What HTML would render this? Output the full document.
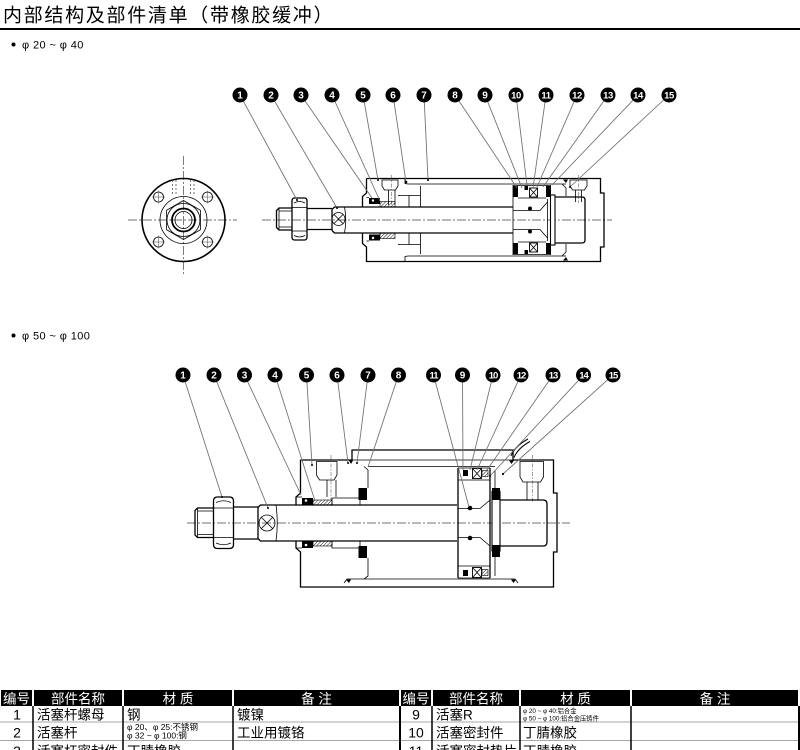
<!DOCTYPE html>
<html><head><meta charset="utf-8">
<style>
html,body{margin:0;padding:0;background:#fff;overflow:hidden;}
svg{display:block;}
.o{fill:none;stroke:#000;stroke-width:1.3}
.t{fill:none;stroke:#000;stroke-width:0.8}
.c{fill:none;stroke:#444;stroke-width:0.7;stroke-dasharray:9 2 2 2}
.l{fill:none;stroke:#6e6e6e;stroke-width:0.85}
.w{fill:#fff;stroke:#000;stroke-width:0.9}
.bt{fill:#fff;font-weight:bold;font-size:10px;text-anchor:middle;font-family:"Liberation Sans",sans-serif}
.hd{fill:#fff;font-size:13.5px;text-anchor:middle;font-family:"Liberation Sans","Noto Sans CJK SC",sans-serif}
.tx{fill:#000;font-size:13.5px;font-family:"Liberation Sans","Noto Sans CJK SC",sans-serif}
.num{fill:#000;font-size:14px;text-anchor:middle;font-family:"Liberation Sans",sans-serif}
</style></head><body>
<svg width="800" height="750" viewBox="0 0 800 750" xmlns="http://www.w3.org/2000/svg" font-family="'Liberation Sans','Noto Sans CJK SC',sans-serif">
<defs>
<pattern id="h" width="2.4" height="2.4" patternUnits="userSpaceOnUse" patternTransform="rotate(45)"><line x1="0" y1="0" x2="0" y2="2.4" stroke="#000" stroke-width="0.9"/></pattern>
</defs>
<rect width="800" height="750" fill="#fff"/>

<!-- Title -->
<text x="3" y="21.5" font-size="19" letter-spacing="1.7" fill="#000" font-family="'Liberation Sans','Noto Sans CJK SC',sans-serif">内部结构及部件清单（带橡胶缓冲）</text>
<rect x="0" y="28" width="800" height="2" fill="#000"/>

<circle cx="13.5" cy="44.5" r="2" fill="#000"/>
<text x="22" y="48.5" font-size="11" letter-spacing="0.4" fill="#000">φ 20 ~ φ 40</text>
<circle cx="13.5" cy="335.5" r="2" fill="#000"/>
<text x="22" y="339.5" font-size="11" letter-spacing="0.4" fill="#000">φ 50 ~ φ 100</text>

<!-- ===== Diagram 1: side view ===== -->
<g>
<line class="c" x1="128" y1="220" x2="237" y2="220"/>
<line class="c" x1="183.5" y1="156" x2="183.5" y2="274"/>
<circle cx="183.5" cy="220" r="41.5" fill="none" stroke="#000" stroke-width="1.6"/>
<circle class="t" cx="158.5" cy="197" r="5"/>
<circle class="t" cx="207.5" cy="197" r="5"/>
<circle class="t" cx="158.5" cy="242" r="5"/>
<circle class="t" cx="207.5" cy="242" r="5"/>
<path d="M152,197H165M158.5,190.5V203.5M201,197H214M207.5,190.5V203.5M152,242H165M158.5,235.5V248.5M201,242H214M207.5,235.5V248.5" stroke="#444" stroke-width="0.5" fill="none"/>
<circle class="t" cx="183.5" cy="220" r="23.5"/>
<polygon class="t" points="183.5,200.5 200.4,210.25 200.4,229.75 183.5,239.5 166.6,229.75 166.6,210.25"/>
<circle class="t" cx="183.5" cy="220" r="16.5"/>
<circle cx="183.5" cy="220" r="11.5" fill="none" stroke="#000" stroke-width="1.8"/>
<circle class="t" cx="183.5" cy="220" r="8.5"/>
<path d="M172.5,180V196M176,180V196M190.5,180V196M194,180V196" stroke="#555" stroke-width="0.8" stroke-dasharray="2 2" fill="none"/>
</g>

<!-- ===== Diagram 1: cylinder ===== -->
<g>
<line class="c" x1="262" y1="220" x2="612" y2="220"/>
<path class="o" d="M292,208H279L276.5,210.5V227.5L279,230H292"/>
<path class="t" d="M279,208V230M279,211H292M279,227H292"/>
<path class="o" d="M294.5,198H304.5Q307,198 307,201V237Q307,240 304.5,240H294.5Q292,240 292,237V201Q292,198 294.5,198Z" fill="#fff"/>
<path class="t" d="M292,207.5H307M292,231H307M294,203Q299.5,200 305,203M294,235.5Q299.5,238.5 305,235.5"/>
<path class="o" d="M307,208.5H332M307,229.5H332"/>
<path class="o" d="M332,209.5L334.5,207H513M332,230.5L334.5,233H513M332,209.5V230.5"/>
<path class="t" d="M344.5,207Q347,220 344.5,233"/>
<circle class="t" cx="338.5" cy="219" r="6.5"/>
<path class="t" d="M334,214.5L343,223.5M343,214.5L334,223.5"/>
<path class="o" d="M366.5,178.5H600.5V193H604V247H600.5V261.5H366.5V247L362.5,243.5V233M362.5,207V196.5L366.5,193V178.5"/>
<path class="t" d="M405,178.5V183.5L408,184H566M405,261.5V256.5L408,256H566"/>
<path class="t" d="M420.5,186V207M420.5,233V254M409,207V195.5H420.5M409,233V244.5H420.5M398,195.5H409M398,244.5H409"/>
<path class="t" d="M382,180H398V186L395.5,190H384.5L382,186Z" fill="#fff"/>
<path class="t" d="M388.5,190V205M395,190V205"/>
<line x1="391.7" y1="175" x2="391.7" y2="206" stroke="#444" stroke-width="0.5" stroke-dasharray="4 1.5 1.5 1.5"/>
<path class="t" d="M570,180H587V186L584.5,190H572.5L570,186Z" fill="#fff"/>
<path class="t" d="M575.5,190V202M581.5,190V202"/>
<line x1="578.5" y1="175" x2="578.5" y2="203" stroke="#444" stroke-width="0.5" stroke-dasharray="4 1.5 1.5 1.5"/>
<rect x="369" y="198" width="11" height="6" fill="#000"/>
<rect x="369" y="234.5" width="11" height="6" fill="#000"/>
<circle cx="373" cy="200.5" r="1.2" fill="#fff"/>
<circle cx="373" cy="238" r="1.2" fill="#fff"/>
<rect x="380" y="201.5" width="15" height="5.5" fill="url(#h)" stroke="#000" stroke-width="0.6"/>
<rect x="380" y="233" width="15" height="5.5" fill="url(#h)" stroke="#000" stroke-width="0.6"/>
<path class="t" d="M366.5,197.5H369M366.5,241H369"/>
<path class="t" d="M513,185V255M550.5,185V255M513,185.5H550.5M513,254.5H550.5M518,198H546M518,242H546"/>
<rect x="513" y="186" width="5" height="11" fill="#000"/>
<rect x="513" y="243" width="5" height="11" fill="#000"/>
<rect x="546" y="186" width="5" height="11" fill="#000"/>
<rect x="546" y="243" width="5" height="11" fill="#000"/>
<rect x="524.5" y="186" width="3.5" height="4" fill="#000"/>
<rect x="524.5" y="250" width="3.5" height="4" fill="#000"/>
<rect class="w" x="529.5" y="188" width="8" height="9"/>
<path class="t" d="M529.5,188L537.5,197M537.5,188L529.5,197"/>
<rect class="w" x="529.5" y="243" width="8" height="9"/>
<path class="t" d="M529.5,243L537.5,252M537.5,243L529.5,252"/>
<path class="t" d="M513,210.5H540L547.5,202M513,229.5H540L547.5,238M547.5,199V241"/>
<circle cx="530" cy="208.5" r="2" fill="#000"/>
<circle cx="530" cy="231.5" r="2" fill="#000"/>
<rect x="550.5" y="195" width="4.5" height="50" fill="#fff" stroke="#000" stroke-width="1.1"/>
<path class="o" d="M555,197H582Q585,197 585,200V240Q585,243 582,243H555"/>
<path class="t" d="M562,184L566,188V196M562,256L566,252V244"/>
<polygon points="563,179.5 568,179.5 566,183" fill="#000"/>
<polygon points="563,260.5 568,260.5 566,257" fill="#000"/>
</g>

<g>
<path class="l" d="M240,95L297,200M271,95L337,208M301,95L372,198M332,95L380,201M363,95L378,180M393,95L406,182M424,95L428,180M455,95L517,188M485,95L522,188M516,95L527,185M546,95L533,188M577,95L537,187M608,95L543,187M638,95L552,185M669,95L570,187"/>
<g fill="#000">
<circle cx="297" cy="200" r="1"/><circle cx="337" cy="208" r="1"/><circle cx="378" cy="180" r="1"/><circle cx="406" cy="182" r="1.3"/><circle cx="428" cy="180" r="1"/><circle cx="570" cy="187" r="1"/>
<circle cx="240" cy="95" r="7.5"/><circle cx="271" cy="95" r="7.5"/><circle cx="301" cy="95" r="7.5"/><circle cx="332" cy="95" r="7.5"/><circle cx="363" cy="95" r="7.5"/><circle cx="393" cy="95" r="7.5"/><circle cx="424" cy="95" r="7.5"/><circle cx="455" cy="95" r="7.5"/><circle cx="485" cy="95" r="7.5"/><circle cx="516" cy="95" r="7.5"/><circle cx="546" cy="95" r="7.5"/><circle cx="577" cy="95" r="7.5"/><circle cx="608" cy="95" r="7.5"/><circle cx="638" cy="95" r="7.5"/><circle cx="669" cy="95" r="7.5"/>
</g>
<g class="bt">
<text x="240" y="98.6">1</text><text x="271" y="98.6">2</text><text x="301" y="98.6">3</text><text x="332" y="98.6">4</text><text x="363" y="98.6">5</text><text x="393" y="98.6">6</text><text x="424" y="98.6">7</text><text x="455" y="98.6">8</text><text x="485" y="98.6">9</text>
<text x="516" y="98.6" font-size="9.5" letter-spacing="-0.4">10</text><text x="546" y="98.6" font-size="9.5" letter-spacing="-0.4">11</text><text x="577" y="98.6" font-size="9.5" letter-spacing="-0.4">12</text><text x="608" y="98.6" font-size="9.5" letter-spacing="-0.4">13</text><text x="638" y="98.6" font-size="9.5" letter-spacing="-0.4">14</text><text x="669" y="98.6" font-size="9.5" letter-spacing="-0.4">15</text>
</g>
</g>

<!-- ===== Diagram 2 ===== -->
<g>
<line class="c" x1="187" y1="523" x2="570" y2="523"/>
<path class="o" d="M213.5,508H197.5L195,510.5V535L197.5,537.5H213.5"/>
<path class="t" d="M197.5,508V537.5M197.5,511H213.5M197.5,534.5H213.5"/>
<path class="o" d="M217.5,497H229.5Q233.5,497 233.5,501V544.5Q233.5,548.5 229.5,548.5H217.5Q213.5,548.5 213.5,544.5V501Q213.5,497 217.5,497Z" fill="#fff"/>
<path class="t" d="M213.5,508H233.5M213.5,537.5H233.5M216,502.5Q223.5,499 231,502.5M216,543Q223.5,546.5 231,543"/>
<path class="o" d="M233.5,507H258M233.5,539H258"/>
<path class="o" d="M258,507.5L260.5,505H457M258,538.5L260.5,541H457M258,507.5V538.5"/>
<path class="t" d="M276,505Q278.5,523 276,541"/>
<circle class="t" cx="267" cy="523" r="8"/>
<path class="t" d="M261.5,517.5L272.5,528.5M272.5,517.5L261.5,528.5"/>
<path class="o" d="M300.5,460H352V450H513V460H553.5V493H557V552H553.5V587H300.5V552L296,548V541M296,505V497L300.5,493V460"/>
<path class="t" d="M352,450V460M513,450V460M352,460H513M368,466.5H495M347,579H515M344,583L347,579M515,579L518,583"/>
<polygon points="346,579.5 351,579.5 349,583" fill="#000"/>
<polygon points="511,579.5 516,579.5 513.5,583" fill="#000"/>
<polygon points="349,460.5 353,460.5 351,464" fill="#000"/>
<polygon points="509,460.5 514,460.5 511.5,464" fill="#000"/>
<path class="t" d="M364,466.5L368,470V488M368,558V576L364,579M495,470V488M495,557V576"/>
<path class="t" d="M316.5,461.5H337V475L334,480H319.5L316.5,475Z" fill="#fff"/>
<path class="t" d="M327,480V497M336,480V497"/>
<line x1="331" y1="455" x2="331" y2="500" stroke="#444" stroke-width="0.5" stroke-dasharray="4 1.5 1.5 1.5"/>
<path class="t" d="M520,461.5H543.5V477L540.5,482H523L520,477Z" fill="#fff"/>
<path class="t" d="M527,482V500M538,482V500"/>
<line x1="532.5" y1="455" x2="532.5" y2="502" stroke="#444" stroke-width="0.5" stroke-dasharray="4 1.5 1.5 1.5"/>
<rect x="302" y="498" width="11" height="6.5" fill="#000"/>
<rect x="302" y="541.5" width="11" height="6.5" fill="#000"/>
<circle cx="306" cy="500.5" r="1.3" fill="#fff"/>
<circle cx="306" cy="545" r="1.3" fill="#fff"/>
<rect x="313" y="500" width="19" height="5" fill="url(#h)" stroke="#000" stroke-width="0.6"/>
<rect x="313" y="541" width="19" height="5" fill="url(#h)" stroke="#000" stroke-width="0.6"/>
<path class="t" d="M332,505V498H360V505M332,541V548H360V541M296,497H302M296,548H302"/>
<rect x="358.5" y="488" width="8.5" height="12" fill="#000"/>
<rect x="358.5" y="546" width="8.5" height="12" fill="#000"/>
<path class="o" d="M458,468V578M490,468V578"/>
<path class="t" d="M458,468H490M458,578H490M458,480H490M458,566H490"/>
<path class="t" d="M458,508.5H480L490,500M458,537.5H480L490,546"/>
<circle cx="470" cy="508" r="2.3" fill="#000"/>
<circle cx="470" cy="538" r="2.3" fill="#000"/>
<rect x="463" y="470" width="5" height="6" fill="#000"/>
<rect x="463" y="570" width="5" height="6" fill="#000"/>
<rect class="w" x="472.5" y="468.5" width="9" height="10"/>
<path class="t" d="M472.5,468.5L481.5,478.5M481.5,468.5L472.5,478.5"/>
<rect class="w" x="472.5" y="567.5" width="9" height="10"/>
<path class="t" d="M472.5,567.5L481.5,577.5M481.5,567.5L472.5,577.5"/>
<rect x="482" y="470.5" width="6" height="6" fill="url(#h)" stroke="#000" stroke-width="0.6"/>
<rect x="482" y="569.5" width="6" height="6" fill="url(#h)" stroke="#000" stroke-width="0.6"/>
<rect x="492" y="491.5" width="8" height="59.5" fill="#fff" stroke="#000" stroke-width="1.1"/>
<rect x="492" y="488" width="8" height="12" fill="#000"/>
<rect x="492" y="545" width="8" height="12" fill="#000"/>
<path class="o" d="M500,500H543Q547,500 547,504V542Q547,546 543,546H500"/>
<path d="M511,456Q515,446 528,439M514,457.5Q518,448 530,441.5" fill="none" stroke="#000" stroke-width="1"/>
</g>

<g>
<path class="l" d="M183,375L222,497M214,375L268,508M244.5,375L301,495M275,375L315,501M306.5,375L312,465M337,375L348,463M368,375L357,463M398.5,375L368,467M433.5,375L469,507M462.5,375L463,470M493,375L470,470M521,375L477,470M553,375L487,470M583.5,375L490,476M613,375L503,474"/>
<g fill="#000">
<circle cx="222" cy="497" r="1"/><circle cx="268" cy="508" r="1"/><circle cx="312" cy="465" r="1"/><circle cx="348" cy="463" r="1"/><circle cx="357" cy="463" r="1"/><circle cx="490" cy="476" r="1"/><circle cx="503" cy="474" r="1.1"/>
<circle cx="183" cy="375" r="7.5"/><circle cx="214" cy="375" r="7.5"/><circle cx="244.5" cy="375" r="7.5"/><circle cx="275" cy="375" r="7.5"/><circle cx="306.5" cy="375" r="7.5"/><circle cx="337" cy="375" r="7.5"/><circle cx="368" cy="375" r="7.5"/><circle cx="398.5" cy="375" r="7.5"/><circle cx="433.5" cy="375" r="7.5"/><circle cx="462.5" cy="375" r="7.5"/><circle cx="493" cy="375" r="7.5"/><circle cx="521" cy="375" r="7.5"/><circle cx="553" cy="375" r="7.5"/><circle cx="583.5" cy="375" r="7.5"/><circle cx="613" cy="375" r="7.5"/>
</g>
<g class="bt">
<text x="183" y="378.6">1</text><text x="214" y="378.6">2</text><text x="244.5" y="378.6">3</text><text x="275" y="378.6">4</text><text x="306.5" y="378.6">5</text><text x="337" y="378.6">6</text><text x="368" y="378.6">7</text><text x="398.5" y="378.6">8</text>
<text x="433.5" y="378.6" font-size="9.5" letter-spacing="-1">11</text><text x="462.5" y="378.6">9</text><text x="493" y="378.6" font-size="9.5" letter-spacing="-1">10</text><text x="521" y="378.6" font-size="9.5" letter-spacing="-1">12</text><text x="553" y="378.6" font-size="9.5" letter-spacing="-1">13</text><text x="583.5" y="378.6" font-size="9.5" letter-spacing="-1">14</text><text x="613" y="378.6" font-size="9.5" letter-spacing="-1">15</text>
</g>
</g>

<!-- ===== Table ===== -->
<g>
<rect x="1" y="690" width="31" height="16" fill="#000"/>
<rect x="34" y="690" width="88" height="16" fill="#000"/>
<rect x="124" y="690" width="108" height="16" fill="#000"/>
<rect x="234" y="690" width="165" height="16" fill="#000"/>
<rect x="401" y="690" width="30" height="16" fill="#000"/>
<rect x="433" y="690" width="86" height="16" fill="#000"/>
<rect x="521" y="690" width="109" height="16" fill="#000"/>
<rect x="632" y="690" width="166" height="16" fill="#000"/>
<text class="hd" x="16.5" y="703.5" font-size="14">编号</text>
<text class="hd" x="78" y="703.5">部件名称</text>
<text class="hd" x="178" y="703.5">材 质</text>
<text class="hd" x="316.5" y="703.5">备 注</text>
<text class="hd" x="416" y="703.5" font-size="14">编号</text>
<text class="hd" x="476" y="703.5">部件名称</text>
<text class="hd" x="575.5" y="703.5">材 质</text>
<text class="hd" x="715" y="703.5">备 注</text>

<path d="M0,722H800M0,740.5H800" stroke="#8a8a8a" stroke-width="0.8" fill="none"/>
<path d="M33,706V750M123,706V750M233,706V750M432,706V750M520,706V750M631,706V750" stroke="#000" stroke-width="1.5" fill="none"/>
<path d="M400,706V750M799,706V750" stroke="#000" stroke-width="2" fill="none"/>

<text class="num" x="17" y="719.5">1</text>
<text class="tx" x="37" y="719.5">活塞杆螺母</text>
<text class="tx" x="127" y="719.5">钢</text>
<text class="tx" x="237" y="719.5">镀镍</text>
<text class="num" x="416" y="719.5">9</text>
<text class="tx" x="436" y="719.5">活塞R</text>
<text x="523" y="713" font-size="6.3" fill="#000">φ 20 ~ φ 40:铝合金</text>
<text x="523" y="720.5" font-size="6.3" fill="#000">φ 50 ~ φ 100:铝合金压铸件</text>

<text class="num" x="17" y="737.5">2</text>
<text class="tx" x="37" y="737.5">活塞杆</text>
<text x="127" y="730" font-size="8.5" fill="#000">φ 20、φ 25:不锈钢</text>
<text x="127" y="738.5" font-size="8.5" fill="#000">φ 32 ~ φ 100:钢</text>
<text class="tx" x="237" y="737.5">工业用镀铬</text>
<text class="num" x="416" y="737.5">10</text>
<text class="tx" x="436" y="737.5">活塞密封件</text>
<text class="tx" x="523" y="737.5">丁腈橡胶</text>

<text class="num" x="17" y="756">3</text>
<text class="tx" x="37" y="756">活塞杆密封件</text>
<text class="tx" x="127" y="756">丁腈橡胶</text>
<text class="num" x="416" y="756">11</text>
<text class="tx" x="436" y="756">活塞密封垫片</text>
<text class="tx" x="523" y="756">丁腈橡胶</text>
</g>
</svg>
</body></html>
